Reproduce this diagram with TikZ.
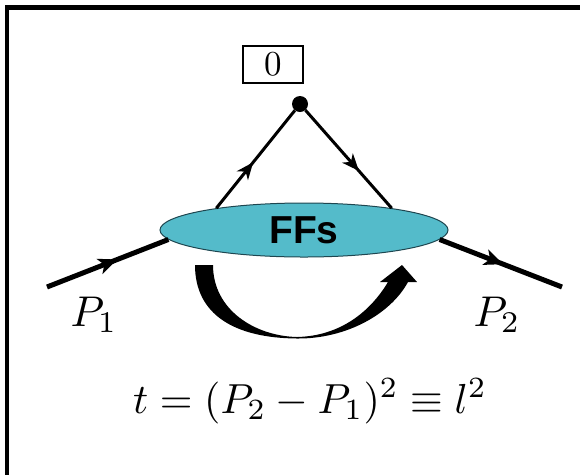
\documentclass[tikz,border=0pt]{standalone}
\usepackage{graphicx}
\usepackage{fontspec}
\newfontfamily\ffsfont{Liberation Sans}
\usetikzlibrary{shapes.geometric,arrows.meta,decorations.markings}
\definecolor{ffcyan}{RGB}{84,187,202}
\definecolor{ffedge}{RGB}{30,70,80}
\tikzset{
  midarrow/.style={postaction={decorate},decoration={markings,
     mark=at position #1 with {\arrow{Stealth[length=17pt,width=14pt,inset=5pt]}}}},
  bigmidarrow/.style={postaction={decorate},decoration={markings,
     mark=at position #1 with {\arrow{Stealth[length=19pt,width=16pt,inset=5pt]}}}},
  thinline/.style={line width=3pt,black},
  thickline/.style={line width=5pt,black},
  zerobox/.style={draw,line width=2pt,minimum width=60pt,minimum height=37pt,inner sep=0pt},
  ffnode/.style={ellipse,draw=ffedge,line width=1pt,fill=ffcyan,minimum width=288pt,minimum height=54pt,inner sep=0pt,font=\ffsfont\bfseries\fontsize{39}{40}\selectfont},
  plabel/.style={anchor=base},
}
\begin{document}
\begin{tikzpicture}[x=1pt,y=-1pt]
\useasboundingbox (0,0) rectangle (580,475);
% frame (top and left edges)
\draw[line width=4.5pt] (5,7.5) -- (580,7.5);
\draw[line width=4.5pt] (7,5.5) -- (7,475);
% nodes
\node[zerobox] (zero) at (273,64.5) {\scalebox{3.5}{0}};
\node[circle,fill=black,minimum size=16pt,inner sep=0pt] (dot) at (300,104) {};
\coordinate (p1s) at (47,287);
\coordinate (p2e) at (562,287);
% ellipse
\node[ffnode] (ff) at (304,230) {\raisebox{-3pt}{FFs}};
% outer lines
\draw[thickline,bigmidarrow=0.58] (p1s) -- (ff.184);
\draw[thickline,bigmidarrow=0.52] (ff.356) -- (p2e);
% upper lines
\draw[thinline,midarrow=0.47] (ff.166) -- (dot);
\draw[thinline,midarrow=0.62] (dot) -- (ff.14);
% curved arrow
\fill[black] (195,265) .. controls (195,315) and (235,338) .. (297,338.5)
   .. controls (345,339) and (390,315) .. (408,282)
   -- (417,282) -- (402,265) -- (380,282) -- (388,282)
   .. controls (370,312) and (340,336) .. (297,337)
   .. controls (255,336) and (213,310) .. (213,265) -- cycle;
% labels
\node[plabel] (p1) at (94,326) {\scalebox{4.3}{$P_1$}};
\node[plabel] (p2) at (497,326) {\scalebox{4.3}{$P_2$}};
\node[anchor=base] (eq) at (310,413) {\scalebox{4.2}{$t=(P_2-P_1)^2\equiv l^2$}};
\end{tikzpicture}
\end{document}
